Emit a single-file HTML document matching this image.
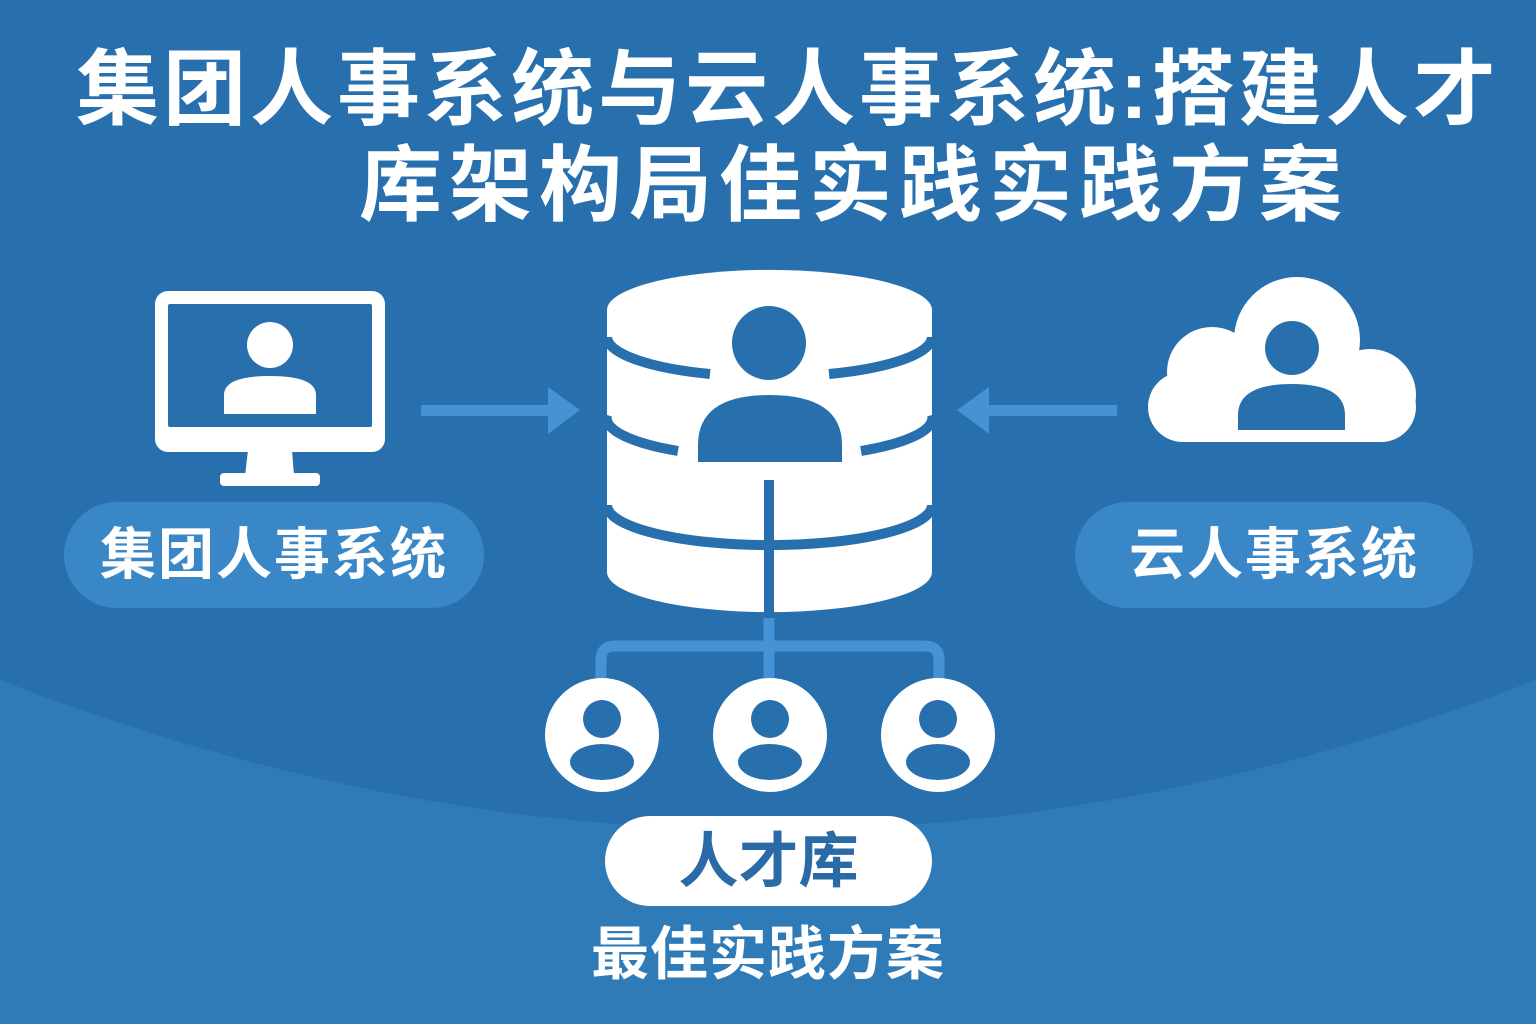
<!DOCTYPE html>
<html><head><meta charset="utf-8"><style>
html,body{margin:0;padding:0;}
body{width:1536px;height:1024px;overflow:hidden;background:#2870ad;position:relative;font-family:"Liberation Sans","Noto Sans CJK SC",sans-serif;}
svg{position:absolute;left:0;top:0;}
.t{position:absolute;color:#fff;font-weight:bold;white-space:nowrap;}
</style></head><body>
<svg width="1536" height="1024" viewBox="0 0 1536 1024">
<path d="M0 680 Q768 980 1536 680 L1536 1024 L0 1024 Z" fill="#2f7bb8"/>
<rect x="64" y="502" width="420" height="106" rx="53" fill="#3a87c8"/>
<rect x="1075" y="502" width="398" height="106" rx="53" fill="#3a87c8"/>
<rect x="605" y="816" width="327" height="90" rx="45" fill="#fff"/>
<rect x="155" y="291" width="230" height="161" rx="13" fill="#fff"/>
<rect x="168" y="304" width="204" height="123" rx="2" fill="#2870ad"/>
<polygon points="248,450 292,450 294,476 245,476" fill="#fff"/>
<rect x="220" y="473" width="100" height="13" rx="4" fill="#fff"/>
<circle cx="270" cy="345" r="23" fill="#fff"/>
<path d="M224 414 L224 395 Q224 376 270 376 Q316 376 316 395 L316 414 Z" fill="#fff"/>
<rect x="421" y="405" width="130" height="11" fill="#4592d4"/>
<polygon points="548,387 580,410 548,434" fill="#4592d4"/>
<rect x="986" y="405" width="131" height="11" fill="#4592d4"/>
<polygon points="989,387 957,410 989,434" fill="#4592d4"/>
<path d="M607 310 A162 40 0 0 1 932 310 L932 572 A162 40 0 0 1 607 572 Z" fill="#fff"/>
<g fill="none" stroke="#2870ad" stroke-width="10">
<path d="M607 337 A162 40 0 0 0 710 374"/>
<path d="M829 374 A162 40 0 0 0 932 337"/>
<path d="M607 415 A162 40 0 0 0 678 451"/>
<path d="M861 451 A162 40 0 0 0 932 415"/>
<path d="M607 505 A162 40 0 0 0 932 505"/>
</g>
<rect x="764" y="480" width="10" height="135" fill="#2870ad"/>
<circle cx="769" cy="343" r="37" fill="#2870ad"/>
<path d="M698 462 L698 445 Q698 395 769 395 Q842 395 842 445 L842 462 Z" fill="#2870ad"/>
<path d="M769 618 L769 680 M601 680 L601 660 Q601 646 615 646 L925 646 Q939 646 939 660 L939 680" fill="none" stroke="#4592d4" stroke-width="11"/>
<g>
<circle cx="602" cy="735" r="57" fill="#fff"/>
<circle cx="770" cy="735" r="57" fill="#fff"/>
<circle cx="938" cy="735" r="57" fill="#fff"/>
<g fill="#2870ad">
<circle cx="602" cy="719" r="19"/><ellipse cx="602" cy="762" rx="32" ry="18"/>
<circle cx="770" cy="719" r="19"/><ellipse cx="770" cy="762" rx="32" ry="18"/>
<circle cx="938" cy="719" r="19"/><ellipse cx="938" cy="762" rx="32" ry="18"/>
</g>
</g>
<g fill="#fff">
<circle cx="1297" cy="340" r="63"/>
<circle cx="1212" cy="372" r="45"/>
<circle cx="1370" cy="395" r="46"/>
<rect x="1148" y="372" width="268" height="70" rx="35"/>
</g>
<circle cx="1292" cy="348" r="27" fill="#2870ad"/>
<path d="M1238 430 L1238 415 Q1238 384 1292 384 Q1345 384 1345 415 L1345 430 Z" fill="#2870ad"/>
</svg>
<div class="t" style="left:20px;width:1536px;text-align:center;top:42px;font-size:83px;line-height:96px;letter-spacing:4px;">集团人事系统与云人事系统:搭建人才</div>
<div class="t" style="left:359px;top:138px;font-size:83px;line-height:96px;letter-spacing:7px;">库架构局佳实践实践方案</div>
<div class="t" style="left:64px;width:420px;text-align:center;top:525px;font-size:56px;line-height:60px;letter-spacing:2px;">集团人事系统</div>
<div class="t" style="left:1075px;width:398px;text-align:center;top:525px;font-size:56px;line-height:60px;letter-spacing:2px;">云人事系统</div>
<div class="t" style="left:605px;width:327px;text-align:center;top:830px;font-size:60px;line-height:64px;color:#2a6aa6;">人才库</div>
<div class="t" style="left:0;width:1536px;text-align:center;top:922px;font-size:58px;line-height:66px;letter-spacing:1px;">最佳实践方案</div>
</body></html>
